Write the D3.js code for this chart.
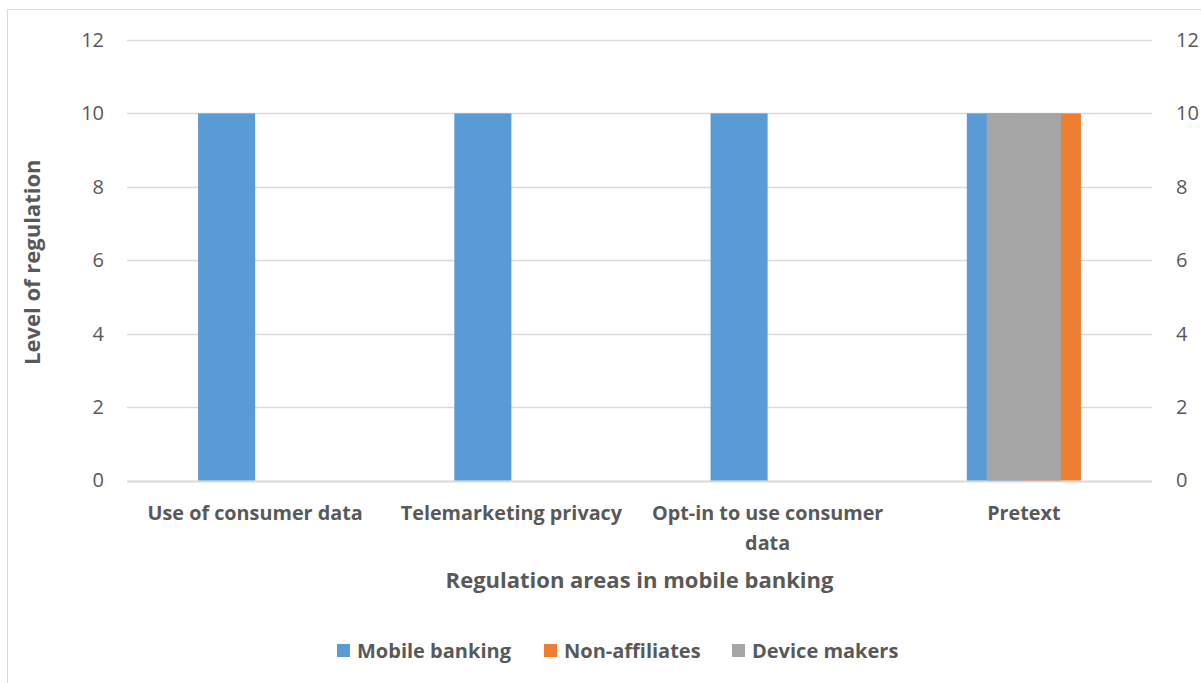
<!DOCTYPE html>
<html>
<head>
<meta charset="utf-8">
<script src="https://cdn.jsdelivr.net/npm/d3@7"></script>
<style>
  body { margin: 0; background: #fff; }
  text { font-family: "Open Sans", "Liberation Sans", sans-serif; fill: #595959; }
</style>
</head>
<body>
<svg id="chart"></svg>
<script>
const categories = ["Use of consumer data", "Telemarketing privacy", "Opt-in to use consumer data", "Pretext"]
const mobileBanking = [10, 10, 10, 10]
const nonAffiliates = [0, 0, 0, 10]
const deviceMakers = [0, 0, 0, 10]
const yTicks = [0, 2, 4, 6, 8, 10, 12]

const width = 1201, height = 683
const margin = { top: 40, right: 49, bottom: 202, left: 127 }

const colors = {
  "Mobile banking": "#5b9bd5",
  "Non-affiliates": "#ed7d31",
  "Device makers": "#a5a5a5"
}

const svg = d3.select("#chart")
  .attr("width", width)
  .attr("height", height)

// outer frame
svg.append("rect")
  .attr("x", 7.5).attr("y", 9.5)
  .attr("width", width).attr("height", height)
  .attr("fill", "none")
  .attr("stroke", "#d9d9d9")

const x = d3.scaleBand()
  .domain(categories)
  .range([margin.left, width - margin.right])

const y = d3.scaleLinear()
  .domain([0, 12])
  .range([height - margin.bottom - 0.5, margin.top])

// gridlines
svg.append("g")
  .selectAll("line")
  .data(yTicks)
  .join("line")
  .attr("x1", margin.left)
  .attr("x2", width - margin.right)
  .attr("y1", d => Math.round(y(d)) + 0.5)
  .attr("y2", d => Math.round(y(d)) + 0.5)
  .attr("stroke", "#d9d9d9")
  .attr("stroke-width", d => d === 0 ? 2 : 1.3)

// left and right axis labels
const yAxisL = svg.append("g")
  .attr("transform", `translate(${margin.left - 23}, 0)`)
  .call(d3.axisLeft(y).tickValues(yTicks).tickSize(0).tickPadding(0))
yAxisL.select(".domain").remove()
yAxisL.selectAll("text").style("font-size", "20px").attr("fill", "#595959")
  .style("font-family", null)

const yAxisR = svg.append("g")
  .attr("transform", `translate(${width - margin.right + 24}, 0)`)
  .call(d3.axisRight(y).tickValues(yTicks).tickSize(0).tickPadding(0))
yAxisR.select(".domain").remove()
yAxisR.selectAll("text").style("font-size", "20px").attr("fill", "#595959")
  .style("font-family", null)

// primary axis: clustered mobile banking + non-affiliates
const barW = x.bandwidth() * 57 / 256
const primary = [
  { name: "Mobile banking", values: mobileBanking, offset: -1 },
  { name: "Non-affiliates", values: nonAffiliates, offset: 0 }
]

primary.forEach(s => {
  svg.append("g")
    .selectAll("rect")
    .data(categories.map((c, i) => ({ c, v: s.values[i] })))
    .join("rect")
    .attr("x", d => x(d.c) + x.bandwidth() / 2 + s.offset * barW)
    .attr("width", barW)
    .attr("y", d => y(d.v))
    .attr("height", d => y(0) - y(d.v))
    .attr("fill", colors[s.name])
})

// secondary axis series drawn on top
const secW = x.bandwidth() * 74 / 256
svg.append("g")
  .selectAll("rect")
  .data(categories.map((c, i) => ({ c, v: deviceMakers[i] })))
  .join("rect")
  .attr("x", d => x(d.c) + x.bandwidth() / 2 - secW / 2)
  .attr("width", secW)
  .attr("y", d => y(d.v))
  .attr("height", d => y(0) - y(d.v))
  .attr("fill", colors["Device makers"])

// category labels
const wrapLines = {
  "Opt-in to use consumer data": ["Opt-in to use consumer", "data"]
}
const catLabels = svg.append("g")
  .selectAll("text")
  .data(categories)
  .join("text")
  .attr("x", d => x(d) + x.bandwidth() / 2)
  .attr("y", 520)
  .attr("text-anchor", "middle")
  .style("font-size", "19.8px")
  .style("font-weight", "bold")

catLabels.each(function (d) {
  const lines = wrapLines[d] || [d]
  d3.select(this).selectAll("tspan")
    .data(lines)
    .join("tspan")
    .attr("x", x(d) + x.bandwidth() / 2)
    .attr("dy", (l, i) => i === 0 ? 0 : 30)
    .text(l => l)
})

// axis titles
svg.append("text")
  .attr("x", (margin.left + width - margin.right) / 2)
  .attr("y", 588)
  .attr("text-anchor", "middle")
  .style("font-size", "22px")
  .style("font-weight", "bold")
  .text("Regulation areas in mobile banking")

svg.append("text")
  .attr("transform", `translate(40, ${(y(0) + y(12)) / 2 + 2}) rotate(-90)`)
  .attr("text-anchor", "middle")
  .style("font-size", "22px")
  .style("font-weight", "bold")
  .text("Level of regulation")

// legend
const legendItems = [
  { name: "Mobile banking", x: 337 },
  { name: "Non-affiliates", x: 544 },
  { name: "Device makers", x: 732 }
]
const legend = svg.append("g")
  .selectAll("g")
  .data(legendItems)
  .join("g")
  .attr("transform", d => `translate(${d.x}, 644)`)

legend.append("rect")
  .attr("width", 13).attr("height", 13)
  .attr("fill", d => colors[d.name])

legend.append("text")
  .attr("x", 20)
  .attr("y", 14)
  .style("font-size", "20px")
  .style("font-weight", "bold")
  .text(d => d.name)
</script>
</body>
</html>
